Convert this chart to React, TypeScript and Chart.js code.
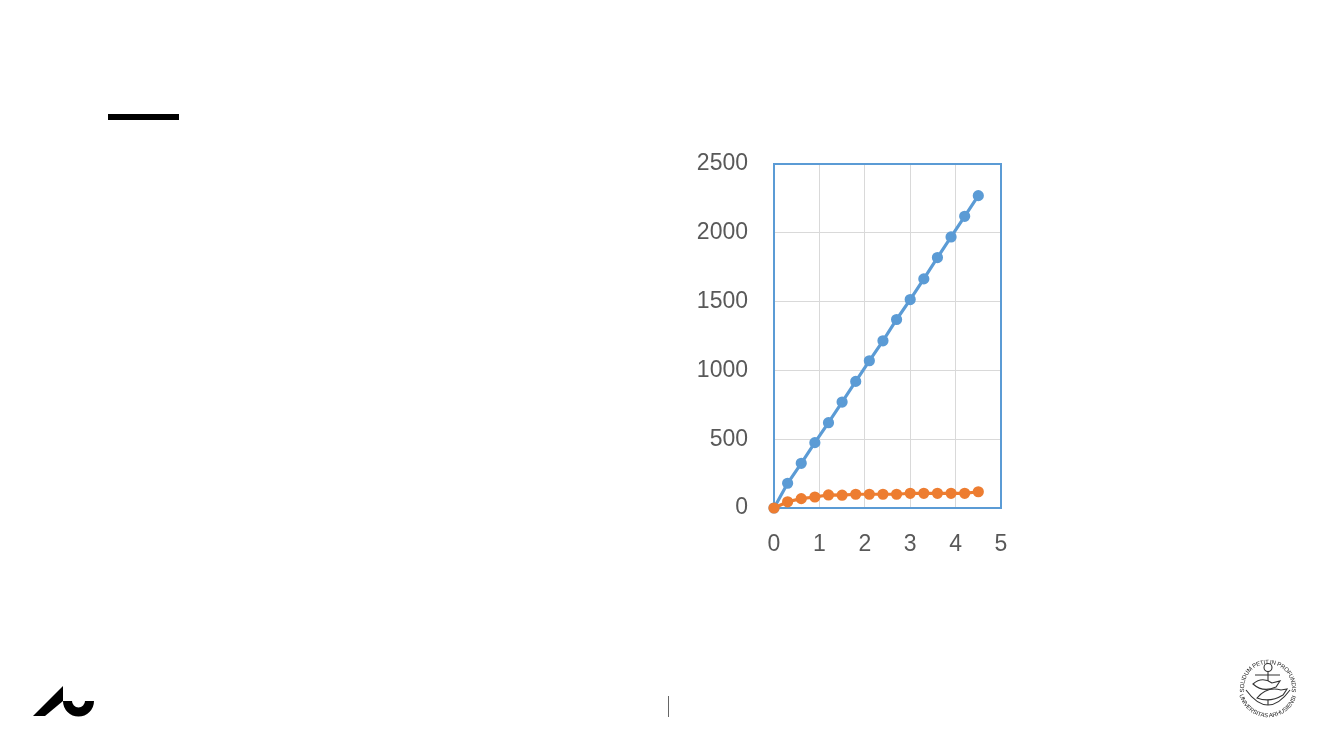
import React, { useEffect, useRef } from "react";
import { Chart, registerables } from "chart.js";

Chart.register(...registerables);

const xValues = [0, 0.3, 0.6, 0.9, 1.2, 1.5, 1.8, 2.1, 2.4, 2.7, 3, 3.3, 3.6, 3.9, 4.2, 4.5];
const blueValues = [0, 180, 325, 475, 620, 770, 920, 1070, 1215, 1370, 1515, 1665, 1820, 1970, 2120, 2270];
const orangeValues = [0, 45, 68, 80, 95, 93, 100, 100, 100, 100, 107, 107, 107, 107, 107, 118];

const BLUE = "#5B9BD5";
const ORANGE = "#ED7D31";
const TEXT = "#595959";
const FONT = { family: "'Liberation Sans', Arial, sans-serif", size: 23 };
const plainTick = (v: any) => String(v);

const plotFrame = {
  id: "plotFrame",
  beforeDatasetsDraw(chart: any) {
    const { ctx, chartArea: a } = chart;
    ctx.save();
    ctx.strokeStyle = BLUE;
    ctx.lineWidth = 2;
    ctx.strokeRect(a.left, a.top, a.right - a.left, a.bottom - a.top);
    ctx.restore();
  },
};

function Seal() {
  const font = "'Liberation Sans', Arial, sans-serif";
  return (
    <svg style={{ position: "absolute", left: 1235, top: 656 }} width={66} height={66} viewBox="0 0 66 66">
      <defs>
        <path id="sealTop" d="M 9.4 36.2 A 24 24 0 1 1 56.6 36.2" />
        <path id="sealBottom" d="M 4.4 39 A 29.5 29.5 0 0 0 61.6 39" />
      </defs>
      <text fontFamily={font} fontSize="6" fill="#222">
        <textPath href="#sealTop" textLength="84">SOLIDUM PETIT IN PROFUNDIS</textPath>
      </text>
      <text fontFamily={font} fontSize="6" fill="#222">
        <textPath href="#sealBottom" textLength="80">UNIVERSITAS ARHUSIENSIS</textPath>
      </text>
      <g stroke="#333" strokeWidth="1.1" fill="none">
        <circle cx="33" cy="11.5" r="4" />
        <path d="M33 15.5 V49 M20 19 H45" />
        <path d="M11 34 Q33 64 55 34" />
        <path d="M18 28 Q27 20 37 27 L45 25 L41 31 Q28 37 18 28 Z" fill="#fff" />
        <path d="M22 42 Q32 30 46 34 L52 33 L48 39 Q35 47 22 42 Z" fill="#fff" />
      </g>
    </svg>
  );
}

export default function App() {
  const ref = useRef<HTMLCanvasElement>(null);

  useEffect(() => {
    document.body.style.margin = "0";
    document.body.style.background = "#fff";
    const chart = new Chart(ref.current!, {
      type: "scatter",
      data: {
        datasets: [
          {
            label: "Blue",
            data: xValues.map((x, i) => ({ x, y: blueValues[i] })),
            showLine: true,
            borderColor: BLUE,
            backgroundColor: BLUE,
            borderWidth: 3.2,
            pointRadius: 4,
            clip: false,
            order: 2,
          },
          {
            label: "Orange",
            data: xValues.map((x, i) => ({ x, y: orangeValues[i] })),
            showLine: true,
            borderColor: ORANGE,
            backgroundColor: ORANGE,
            borderWidth: 3.2,
            pointRadius: 4,
            clip: false,
            order: 1,
          },
        ],
      },
      options: {
        responsive: false,
        animation: false,
        layout: { padding: { left: 674, top: 164, right: 332, bottom: 192 } },
        plugins: { legend: { display: false }, tooltip: { enabled: false } },
        scales: {
          x: {
            type: "linear",
            min: 0,
            max: 5,
            afterFit: (s: any) => { s.height = 50; },
            ticks: { stepSize: 1, color: TEXT, font: FONT, padding: 23, maxRotation: 0, callback: plainTick },
            grid: { color: "#D9D9D9", lineWidth: 1, drawTicks: false },
            border: { display: false },
          },
          y: {
            type: "linear",
            min: 0,
            max: 2500,
            afterFit: (s: any) => { s.width = 100; },
            ticks: { stepSize: 500, color: TEXT, font: FONT, padding: 26, callback: plainTick },
            grid: { color: "#D9D9D9", lineWidth: 1, drawTicks: false },
            border: { display: false },
          },
        },
      },
      plugins: [plotFrame],
    } as any);
    return () => chart.destroy();
  }, []);

  return (
    <div style={{ position: "relative", width: 1333, height: 750, overflow: "hidden" }}>
      <canvas ref={ref} width={1333} height={750} style={{ position: "absolute", left: 0, top: 0 }} />
      <div style={{ position: "absolute", left: 108, top: 114, width: 71, height: 6, background: "#000" }} />
      <svg style={{ position: "absolute", left: 30, top: 684 }} width={68} height={36} viewBox="0 0 68 36">
        <path d="M3 32 L33 2 L33 17 L15 32 Z" fill="#000" />
        <path d="M33 17 L42 17 A6.5 6.5 0 0 0 55 17 L64 17 A15.5 15.5 0 0 1 33 17 Z" fill="#000" />
      </svg>
      <div style={{ position: "absolute", left: 668, top: 696, width: 1, height: 21, background: "#666" }} />
      <Seal />
    </div>
  );
}
